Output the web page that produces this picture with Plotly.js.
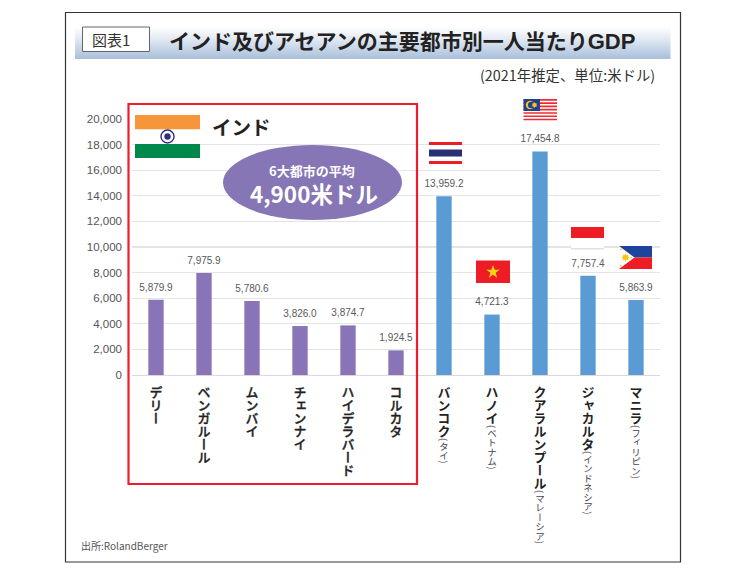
<!DOCTYPE html>
<html><head><meta charset="utf-8">
<script src="https://cdn.plot.ly/plotly-3.0.1.min.js"></script>
<style>html,body{margin:0;padding:0;background:#fff}#c{width:740px;height:573px}</style>
</head><body><div id="c"></div>
<script>
const cities = ['デリー','ベンガルール','ムンバイ','チェンナイ','ハイデラバード','コルカタ','バンコク','ハノイ','クアラルンプール','ジャカルタ','マニラ'];
const countries = ['','','','','','','(タイ)','(ベトナム)','(マレーシア)','(インドネシア)','(フィリピン)'];
const values = [5879.9,7975.9,5780.6,3826.0,3874.7,1924.5,13959.2,4721.3,17454.8,7757.4,5863.9];
const valueLabels = ['5,879.9','7,975.9','5,780.6','3,826.0','3,874.7','1,924.5','13,959.2','4,721.3','17,454.8','7,757.4','5,863.9'];
const barColors = ['#8874b6','#8874b6','#8874b6','#8874b6','#8874b6','#8874b6','#5b9bd5','#5b9bd5','#5b9bd5','#5b9bd5','#5b9bd5'];
const yTicks = [0,2000,4000,6000,8000,10000,12000,14000,16000,18000,20000];
const yTickLabels = ['0','2,000','4,000','6,000','8,000','10,000','12,000','14,000','16,000','18,000','20,000'];
const titleText = 'インド及びアセアンの主要都市別一人当たり<span style="font-family:\'Liberation Sans\';font-size:22px">GDP</span>';
const unitText = '(2021年推定、単位:米ドル)';
const sourceText = '出所:RolandBerger';

const JP = '"Noto Sans CJK JP","Noto Sans",sans-serif';
const L=132,T=119,W=528,H=256;
const px=x=>(x-L)/W, py=y=>1-(y-T)/H;
const shapes=[];
function rect(x0,y0,x1,y1,fill,line,lw){shapes.push({type:'rect',xref:'paper',yref:'paper',layer:'above',x0:px(x0),x1:px(x1),y0:py(y1),y1:py(y0),fillcolor:fill,line:{color:line||fill,width:lw===undefined?0:lw}});}
function oval(cx,cy,rx,ry,fill,line,lw){shapes.push({type:'circle',xref:'paper',yref:'paper',layer:'above',x0:px(cx-rx),x1:px(cx+rx),y0:py(cy+ry),y1:py(cy-ry),fillcolor:fill,line:{color:line||fill,width:lw||0}});}
function poly(pts,fill){shapes.push({type:'path',xref:'paper',yref:'paper',layer:'above',path:'M'+pts.map(p=>px(p[0])+' '+py(p[1])).join('L')+'Z',fillcolor:fill,line:{width:0}});}
function star(cx,cy,R,n,fill,inner){const p=[];for(let i=0;i<2*n;i++){const a=-Math.PI/2+i*Math.PI/n,r=i%2?R*(inner||0.4):R;p.push([cx+r*Math.cos(a),cy+r*Math.sin(a)]);}poly(p,fill);}

// outer frame
rect(65.5,12.5,680.5,562,'rgba(0,0,0,0)','#333',1.2);
// title band gradient
const bandTop=26,bandBot=59,c0=[255,255,255],c1=[170,192,220];
for(let y=bandTop;y<bandBot;y++){const t=Math.pow((y-bandTop)/(bandBot-bandTop-1),1.1);
  const c=c0.map((v,i)=>Math.round(v+(c1[i]-v)*t));rect(75,y,670.5,y+1,`rgb(${c})`);}
rect(82.5,27,149.5,51.5,'#fff','#666',1);
// red box
rect(128.5,104,417,484,'rgba(0,0,0,0)','#ee1c2e',2.2);
// ellipse
oval(312.5,182.5,89.5,37.5,'#8776b5');
// India flag
rect(135,115,200,129.5,'#f7953a');rect(135,129.5,200,144,'#ffffff');rect(135,144,200,158,'#00894a');
oval(167.5,136.5,6.5,6.5,'#fff','#2d2f7f',1.4);oval(167.5,136.5,3.2,3.2,'#2d2f7f');
// Thailand
rect(429,142,462,164,'#ee1c25');rect(429,145,462,161,'#fff');rect(429,149.5,462,156.5,'#2a2f72');
// Malaysia
rect(523.5,99,557,122,'#fff');
for(let i=0;i<7;i++){rect(523.5,99+i*23/7,557,99+i*23/7+23/14,'#ee2b30');}
rect(523.5,99,540,111,'#23408f');
oval(530,105,4.2,4.2,'#f7c31c');oval(531.3,105,3.3,3.3,'#23408f');star(534.5,105,3,8,'#f7c31c',0.6);
// Vietnam
rect(476,260.5,510,283,'#ee1c25');star(493,272,7,5,'#fcd116');
// Indonesia
rect(571,227,604,238,'#ee1c25');rect(571,238,604,249,'#fff');rect(571,248.6,604,249.2,'#c4c4c4');
// Philippines
rect(619,246,652,257.5,'#1c449c');rect(619,257.5,652,269,'#ee1c25');
poly([[619,246],[634.5,257.5],[619,269]],'#fff');
star(625.5,257.5,4.2,8,'#f9c80e',0.6);star(621,249.5,1.5,5,'#f9c80e');star(621,265.5,1.5,5,'#f9c80e');star(631,257.5,1.2,5,'#f9c80e');

function note(x,y,text,size,color,anchor,weight){return {xref:'paper',yref:'paper',x:px(x),y:py(y),text:text,showarrow:false,xanchor:anchor||'left',yanchor:'middle',font:{family:JP,size:size,color:color,weight:weight||400}};}
const annotations=[
 note(90,39.5,'図表1',15,'#333'),
 note(167,40,titleText,21,'#222','left',700),
 note(657,74,unitText,14.4,'#333','right'),
 note(210,126,'インド',19.5,'#222','left',700),
 note(312,170,'6大都市の平均',13,'#fff','center',700),
 note(314,193,'4,900米ドル',22.5,'#fff','center',700),
 note(79,545,sourceText,10,'#555')
];

const xIdx=cities.map((_,i)=>i);
const tickText=cities.map((c,i)=>countries[i]?`<b>${c}</b><span style="font-size:9.5px;font-weight:400;fill:#444">${countries[i]}</span>`:c);
const data=[
 {type:'bar',x:xIdx,y:values,width:0.32,marker:{color:barColors},hoverinfo:'skip',showlegend:false},
 {type:'scatter',mode:'markers+text',x:xIdx,y:values,text:valueLabels,textposition:'top center',
  marker:{size:9,opacity:0},textfont:{family:'"Liberation Sans",Arial,sans-serif',size:10,color:'#595959'},hoverinfo:'skip',showlegend:false}
];
const layout={width:740,height:573,margin:{l:L,t:T,r:80,b:198,pad:0},paper_bgcolor:'#fff',plot_bgcolor:'#fff',showlegend:false,
 bargap:0.68,
 xaxis:{range:[-0.5,10.5],tickmode:'array',tickvals:xIdx,ticktext:tickText,tickangle:0,ticks:'',showgrid:false,zeroline:false,showline:true,linecolor:'#d9d9d9',linewidth:1,
   tickfont:{family:JP,size:13,color:'#222',weight:500}},
 yaxis:{range:[0,20000],tickmode:'array',tickvals:yTicks,ticktext:yTickLabels,ticks:'',showgrid:true,gridcolor:'#e4e4e4',gridwidth:1.2,zeroline:false,showline:false,ticklabelstandoff:9,
   tickfont:{family:'"Liberation Sans",Arial,sans-serif',size:11.5,color:'#555'}},
 shapes:shapes,annotations:annotations};
Plotly.newPlot('c',data,layout,{displayModeBar:false,staticPlot:true}).then(gd=>{
  gd.querySelectorAll('.xtick text').forEach((t,i)=>{
    const r=t.getBoundingClientRect();
    const host=gd.getBoundingClientRect();
    const cx=r.left+r.width/2-host.left;
    t.removeAttribute('transform');
    t.style.writingMode='vertical-rl';
    t.setAttribute('text-anchor','start');t.style.textAnchor='start';
    t.setAttribute('x',cx);t.setAttribute('y',386);
    if(!countries[i]){t.style.stroke='#222';t.style.strokeWidth='0.35px';}
    t.querySelectorAll('tspan').forEach(s=>{s.removeAttribute('x');s.removeAttribute('y');});
  });
});
</script></body></html>
